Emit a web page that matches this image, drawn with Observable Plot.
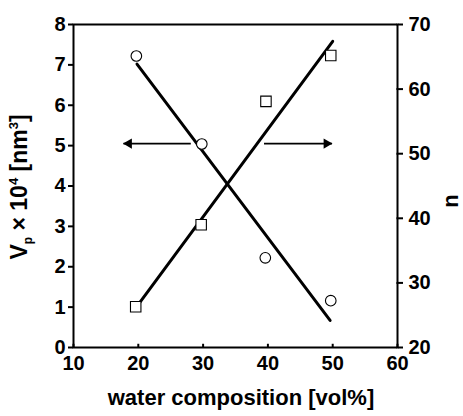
<!DOCTYPE html>
<html>
<head>
<meta charset="utf-8">
<script src="https://cdn.jsdelivr.net/npm/d3@7"></script>
<script src="https://cdn.jsdelivr.net/npm/@observablehq/plot@0.6"></script>
<style>
  html, body { margin: 0; padding: 0; background: white; }
  #chart svg { display: block; }
</style>
</head>
<body>
<div id="chart"></div>
<script>
// ---- data ----
const circleX = [19.7, 29.8, 39.6, 49.7];      // water composition [vol%]
const vpValues = [7.22, 5.04, 2.22, 1.16];     // Vp x 10^4 [nm^3]
const squareX = [19.6, 29.7, 39.7, 49.7];
const nValues = [26.3, 39.0, 58.1, 65.2];      // n (right axis)

const vpFitX = [19.8, 49.6];
const vpFitY = [7.02, 0.67];
const nFitX = [20.1, 50.0];
const nFitY = [26.8, 67.4];

const arrowTailX = [28.1, 39.4];
const arrowTipX = [17.7, 49.9];
const arrowVp = [5.05, 5.05];
const arrowDir = [-1, 1];

const xTicks = [10, 20, 30, 40, 50, 60];
const yTicks = [0, 1, 2, 3, 4, 5, 6, 7, 8];
const nTicks = [20, 30, 40, 50, 60, 70];

// right axis n [20,70] shares the left Vp scale [0,8]
const nDomain = [20, 70];
const vpDomain = [0, 8];
const nToVp = n => vpDomain[0] + (n - nDomain[0]) * (vpDomain[1] - vpDomain[0]) / (nDomain[1] - nDomain[0]);

const circles = circleX.map((x, i) => ({x, y: vpValues[i]}));
const squares = squareX.map((x, i) => ({x, y: nToVp(nValues[i])}));
const vpFit = vpFitX.map((x, i) => ({x, y: vpFitY[i]}));
const nFit = nFitX.map((x, i) => ({x, y: nToVp(nFitY[i])}));
const arrows = arrowTailX.map((x, i) => ({x1: x, x2: arrowTipX[i], y: arrowVp[i], dir: arrowDir[i]}));
const nTickPos = nTicks.map(nToVp);

const font = "'Liberation Sans', Arial, Helvetica, sans-serif";

const chart = Plot.plot({
  width: 463,
  height: 416,
  marginLeft: 73,
  marginRight: 66,
  marginTop: 24,
  marginBottom: 69,
  x: {domain: [10, 60]},
  y: {domain: vpDomain},
  style: {fontFamily: font, fontWeight: "bold", fontSize: "20px", color: "black", background: "white", overflow: "visible"},
  marks: [
    // fit lines
    Plot.line(vpFit, {x: "x", y: "y", stroke: "black", strokeWidth: 3}),
    Plot.line(nFit, {x: "x", y: "y", stroke: "black", strokeWidth: 3}),
    // arrows
    Plot.link(arrows, {x1: "x1", x2: "x2", y1: "y", y2: "y", stroke: "black", strokeWidth: 1.6}),
    Plot.dot(arrows.filter(d => d.dir < 0), {x: "x2", y: "y", symbol: "triangle", r: 3.8, rotate: -90, dx: 5.5, fill: "black", stroke: "none"}),
    Plot.dot(arrows.filter(d => d.dir > 0), {x: "x2", y: "y", symbol: "triangle", r: 3.8, rotate: 90, dx: -5.5, fill: "black", stroke: "none"}),
    // markers
    Plot.dot(circles, {x: "x", y: "y", r: 5.3, fill: "white", stroke: "black", strokeWidth: 1.1}),
    Plot.dot(squares, {x: "x", y: "y", symbol: "square", r: 5.9, fill: "white", stroke: "black", strokeWidth: 1.1}),
    // axes
    Plot.axisX(xTicks, {anchor: "bottom", tickSize: 0, tickPadding: 8, fontSize: 20, fontWeight: "bold", label: null}),
    Plot.ruleX(xTicks, {x: d => d, y1: 0, y2: 0.08, stroke: "black", strokeWidth: 2}),
    Plot.axisY(yTicks, {anchor: "left", tickSize: 5, tickPadding: 3, strokeWidth: 2, fontSize: 20, fontWeight: "bold", label: null}),
    Plot.axisY(nTickPos, {anchor: "right", tickSize: 5, tickPadding: 6, strokeWidth: 2, fontSize: 20, fontWeight: "bold", label: null,
      tickFormat: d => String(nTicks[nTickPos.indexOf(d)])}),
    Plot.ruleY(nTickPos, {y: d => d, x1: 59.92, x2: 60, stroke: "black", strokeWidth: 2}),
    Plot.frame({stroke: "black", strokeWidth: 2})
  ]
});

document.getElementById("chart").appendChild(chart);

// axis titles
const svg = d3.select(chart);
svg.append("text")
  .attr("x", 241).attr("y", 405)
  .attr("text-anchor", "middle")
  .style("font-family", font).style("font-weight", "bold").style("font-size", "22px")
  .text("water composition [vol%]");

const yt = svg.append("text")
  .attr("transform", "translate(27,187) rotate(-90)")
  .attr("text-anchor", "middle")
  .style("font-family", font).style("font-weight", "bold").style("font-size", "23px");
yt.append("tspan").text("V");
yt.append("tspan").attr("dy", 5).style("font-size", "12px").text("p");
yt.append("tspan").attr("dy", -5).text(" × 10");
yt.append("tspan").attr("dy", -9).style("font-size", "13px").text("4");
yt.append("tspan").attr("dy", 9).text(" [nm");
yt.append("tspan").attr("dy", -9).style("font-size", "13px").text("3");
yt.append("tspan").attr("dy", 9).text("]");

svg.append("text")
  .attr("transform", "translate(458,201) rotate(-90)")
  .attr("text-anchor", "middle")
  .style("font-family", font).style("font-weight", "bold").style("font-size", "22px")
  .text("n");
</script>
</body>
</html>
